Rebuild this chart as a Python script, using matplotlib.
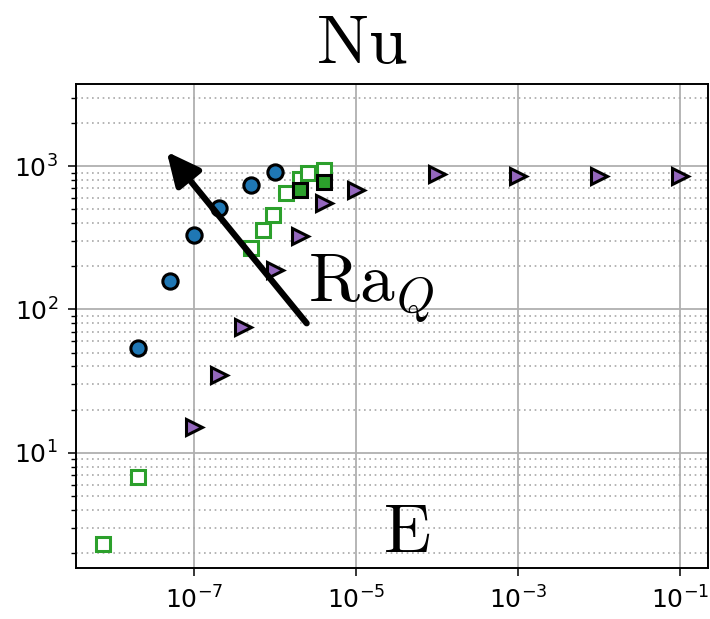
import numpy as np
import matplotlib
matplotlib.use("Agg")
import matplotlib.pyplot as plt
from matplotlib.ticker import LogLocator, NullLocator

plt.rcParams["mathtext.fontset"] = "cm"

# Ekman number (x) and Nusselt number (y) for each data set
E_circles = [2e-8, 5e-8, 1e-7, 2e-7, 5e-7, 1e-6]
Nu_circles = [53.6, 158, 330, 512, 733, 912]

E_open_sq = [7.4e-9, 2e-8, 5e-7, 7e-7, 9.4e-7, 1.34e-6, 2e-6, 2.5e-6, 4e-6]
Nu_open_sq = [2.3, 6.8, 267, 358, 455, 645, 815, 900, 940]

E_filled_sq = [2e-6, 4e-6]
Nu_filled_sq = [681, 778]

E_tri = [1e-7, 2e-7, 4e-7, 1e-6, 2e-6, 4e-6, 1e-5, 1e-4, 1e-3, 1e-2, 1e-1]
Nu_tri = [15.2, 34.9, 75.7, 188, 325, 550, 681, 875, 851, 851, 851]

x_limits = (3.44e-9, 0.222)
y_limits = (1.571, 3735)
x_ticks = [1e-7, 1e-5, 1e-3, 1e-1]
y_ticks = [1e1, 1e2, 1e3]

fig = plt.figure(figsize=(7.10, 6.19), dpi=100)
ax = fig.add_axes([76 / 710, 51 / 619, 632 / 710, 484 / 619])
ax.set_xscale("log")
ax.set_yscale("log")

ax.plot(E_circles, Nu_circles, "o", ms=11, mfc="#1f77b4", mec="black",
        mew=2.2, zorder=3)
ax.plot(E_open_sq, Nu_open_sq, "s", ms=10.5, mfc="white", mec="#2ca02c",
        mew=2.2, zorder=3)
ax.plot(E_filled_sq, Nu_filled_sq, "s", ms=10.5, mfc="#2ca02c", mec="black",
        mew=2.2, zorder=4)
ax.plot(E_tri, Nu_tri, ">", ms=11.5, mfc="#9467bd", mec="black",
        mew=2.2, zorder=4)

ax.set_xlim(*x_limits)
ax.set_ylim(*y_limits)
ax.set_xticks(x_ticks)
ax.xaxis.set_minor_locator(NullLocator())
ax.set_yticks(y_ticks)
ax.yaxis.set_minor_locator(LogLocator(base=10, subs=np.arange(2, 10)))

ax.grid(True, which="major", color="#b0b0b0", lw=1.3, zorder=0)
ax.grid(True, which="minor", axis="y", color="#a8a8a8", lw=1.2,
        linestyle=(0, (1, 2.2)), zorder=0)
ax.set_axisbelow(True)

ax.tick_params(which="major", length=6, width=1.1, labelsize=18, pad=7)
ax.tick_params(which="minor", length=3.5, width=1.0)
for s in ax.spines.values():
    s.set_linewidth(1.4)

# Arrow pointing towards increasing Ra_Q
ax.annotate("", xy=(0.1435, 0.860), xytext=(0.365, 0.5056),
            xycoords="axes fraction", textcoords="axes fraction",
            arrowprops=dict(arrowstyle="-|>,head_length=2.0,head_width=0.95",
                            color="black", lw=4.5, shrinkA=0, shrinkB=0),
            zorder=6)

fig.text(362 / 710, 1 - 63 / 619, r"$\mathrm{Nu}$", fontsize=50,
         ha="center", va="baseline")
fig.text(308 / 710, 1 - 302 / 619, r"$\mathrm{Ra}_Q$", fontsize=50,
         ha="left", va="baseline")
fig.text(383 / 710, 1 - 552 / 619, r"$\mathrm{E}$", fontsize=50,
         ha="left", va="baseline")

fig.savefig("out.png", dpi=100)
